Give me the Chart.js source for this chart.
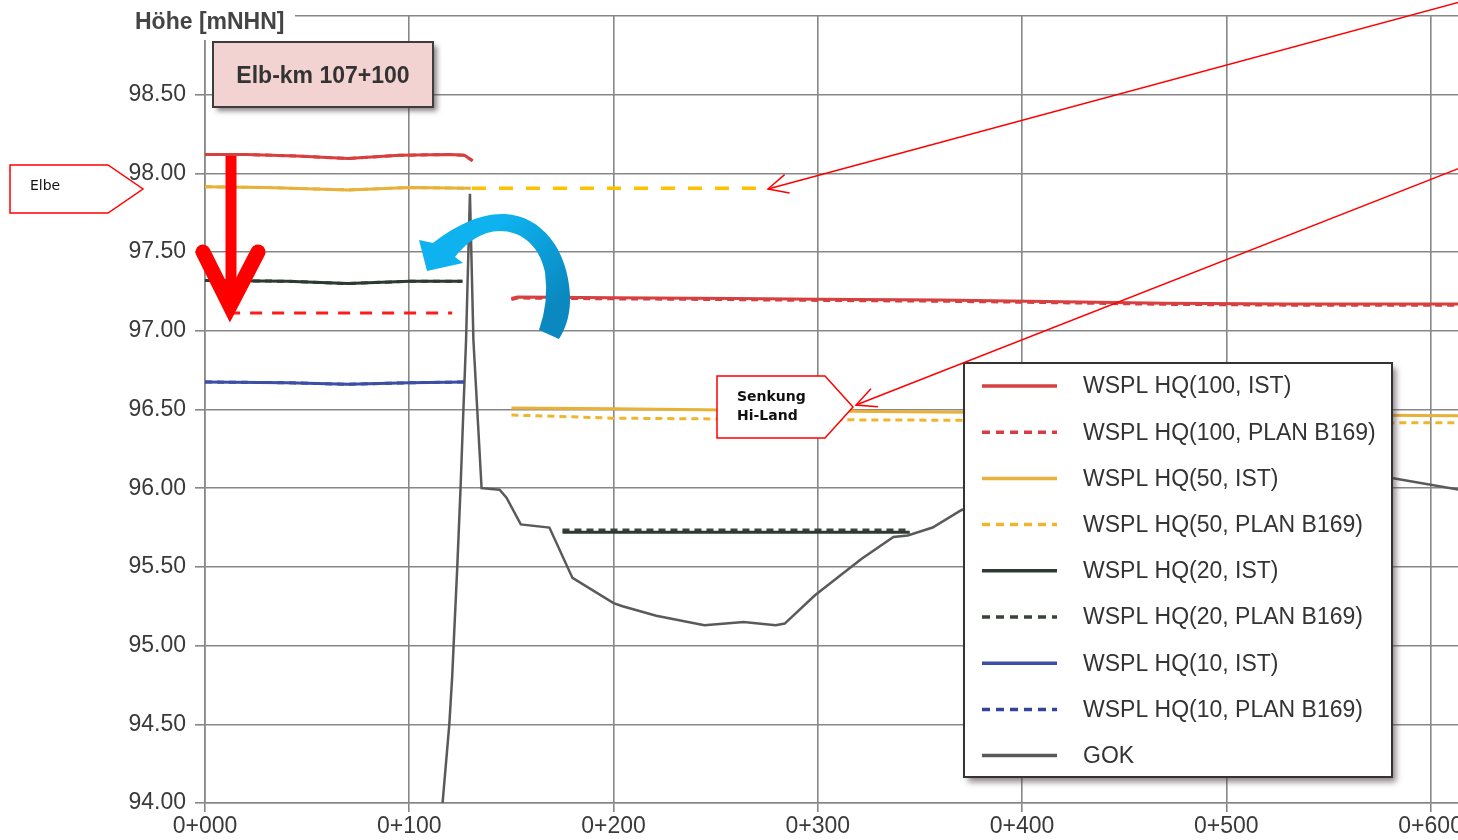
<!DOCTYPE html>
<html>
<head>
<meta charset="utf-8">
<script src="https://cdn.jsdelivr.net/npm/chart.js@4.4.1/dist/chart.umd.min.js"></script>
<style>
  html, body { margin: 0; padding: 0; background: #fff; overflow: hidden; }
  #wrap { width: 1458px; height: 840px; }
</style>
</head>
<body>
<div id="wrap"><canvas id="profilChart" width="1458" height="840"></canvas></div>
<script>
const xTicks = [0, 100, 200, 300, 400, 500, 600];

const hq100IstX  = [0, 20, 45, 70, 95, 120, 127, 131, 140, 150, 153, 200, 260, 300, 360, 420, 470, 530, 614];
const hq100IstY  = [98.12, 98.12, 98.11, 98.095, 98.115, 98.12, 98.115, 98.08, null, 97.205, 97.215, 97.21, 97.205, 97.20, 97.195, 97.185, 97.175, 97.17, 97.17];
const hq100PlanY = [98.12, 98.12, 98.11, 98.095, 98.115, 98.12, 98.115, 98.08, null, 97.198, 97.208, 97.203, 97.198, 97.193, 97.188, 97.178, 97.168, 97.163, 97.163];

const hq50IstX  = [0, 30, 70, 100, 130, 140, 150, 200, 300, 400, 500, 614];
const hq50IstY  = [97.915, 97.91, 97.895, 97.91, 97.905, null, 96.51, 96.505, 96.49, 96.48, 96.47, 96.46];
const hq50PlanY = [97.915, 97.91, 97.895, 97.91, 97.905, null, 96.465, 96.445, 96.435, 96.43, 96.42, 96.415];

const hq20IstX  = [0, 40, 70, 100, 126, 150, 175, 345];
const hq20IstY  = [97.32, 97.315, 97.30, 97.315, 97.315, null, 95.72, 95.72];
const hq20PlanY = [97.32, 97.315, 97.30, 97.315, 97.315, null, 95.735, 95.735];

const hq10IstX  = [0, 40, 70, 100, 127];
const hq10IstY  = [96.675, 96.67, 96.66, 96.67, 96.675];
const hq10PlanY = [96.675, 96.67, 96.66, 96.67, 96.675];

const gokX = [115.5, 116.3, 119.6, 121, 121.7, 123.5, 125.1, 126.5, 127.8, 129.7, 131.4, 135.4, 144.2, 147.6, 154.6, 168.6, 179.9, 200, 204.4, 220.9, 244.5, 263.7, 279.4, 283.8, 298.6, 321.3, 337, 344, 356.2, 370.2, 400, 450, 500, 550, 581, 614];
const gokY = [93.85, 94.0, 94.5, 94.8, 95.0, 95.5, 96.0, 96.5, 96.94, 97.87, 96.94, 96.0, 95.99, 95.94, 95.77, 95.75, 95.43, 95.27, 95.25, 95.19, 95.13, 95.15, 95.13, 95.14, 95.32, 95.55, 95.69, 95.70, 95.75, 95.86, 96.0, 96.1, 96.15, 96.12, 96.065, 95.99];

// Markierungen (Absenkung Elbe / Übertragung ins Hinterland)
const elbeSenkungX = [11.3, 121];
const elbeSenkungY = 97.113;
const hq50UebertragX = [130.7, 275.6];
const hq50UebertragY = 97.906;

const FONT = '"Liberation Sans", Arial, sans-serif';

function zip(xs, ys) {
  return xs.map((x, i) => ({ x: x, y: ys[i] }));
}

function line(label, data, color, dashed) {
  return {
    label: label,
    data: data,
    borderColor: color,
    borderWidth: 3,
    borderDash: dashed ? [7, 5] : [],
    pointRadius: 0,
    tension: 0,
    fill: false,
    spanGaps: false
  };
}

const datasets = [
  line('WSPL HQ(100, IST)', zip(hq100IstX, hq100IstY), '#d6403f', false),
  line('WSPL HQ(100, PLAN B169)', zip(hq100IstX, hq100PlanY), '#d63c44', true),
  line('WSPL HQ(50, IST)', zip(hq50IstX, hq50IstY), '#e8b13a', false),
  line('WSPL HQ(50, PLAN B169)', zip(hq50IstX, hq50PlanY), '#efb52c', true),
  line('WSPL HQ(20, IST)', zip(hq20IstX, hq20IstY), '#2e3a31', false),
  line('WSPL HQ(20, PLAN B169)', zip(hq20IstX, hq20PlanY), '#3a423a', true),
  line('WSPL HQ(10, IST)', zip(hq10IstX, hq10IstY), '#3c4ea6', false),
  line('WSPL HQ(10, PLAN B169)', zip(hq10IstX, hq10PlanY), '#34449c', true),
  line('GOK', zip(gokX, gokY), '#5a5a5a', false)
];
datasets[8].borderWidth = 2.5;

// Legende als Kasten im Diagramm
const legendBox = {
  id: 'legendBox',
  afterDatasetsDraw(chart) {
    const c = chart.ctx;
    const x = 964, y = 363, w = 428, h = 414;
    c.save();
    c.shadowColor = 'rgba(70,50,60,0.6)';
    c.shadowBlur = 6;
    c.shadowOffsetX = 4;
    c.shadowOffsetY = 5;
    c.fillStyle = '#fff';
    c.fillRect(x, y, w, h);
    c.restore();

    c.save();
    c.strokeStyle = '#333';
    c.lineWidth = 2;
    c.strokeRect(x, y, w, h);
    chart.data.datasets.forEach((ds, i) => {
      const ry = 386 + i * 46.2;
      c.beginPath();
      c.strokeStyle = ds.borderColor;
      c.lineWidth = 3.5;
      c.setLineDash(ds.borderDash.length ? [8, 6] : []);
      c.moveTo(982, ry);
      c.lineTo(1057, ry);
      c.stroke();
      c.setLineDash([]);
      c.fillStyle = '#333';
      c.font = '23px ' + FONT;
      c.textBaseline = 'middle';
      c.fillText(ds.label, 1083, ry + 1);
    });
    c.restore();
  }
};

function arrowHead(c, x, y, angle, len, spread) {
  c.beginPath();
  c.moveTo(x + len * Math.cos(angle - spread), y + len * Math.sin(angle - spread));
  c.lineTo(x, y);
  c.lineTo(x + len * Math.cos(angle + spread), y + len * Math.sin(angle + spread));
  c.stroke();
}

function callout(c, x, y, w, h, tip) {
  c.beginPath();
  c.moveTo(x, y);
  c.lineTo(x + w, y);
  c.lineTo(x + w + tip, y + h / 2);
  c.lineTo(x + w, y + h);
  c.lineTo(x, y + h);
  c.closePath();
  c.fillStyle = '#fff';
  c.fill();
  c.strokeStyle = '#ff0000';
  c.lineWidth = 1.5;
  c.stroke();
}

const annotations = {
  id: 'annotations',
  afterDraw(chart) {
    const c = chart.ctx;
    const xs = chart.scales.x, ys = chart.scales.y;
    c.save();

    // Achsentitel
    c.fillStyle = '#fff';
    c.fillRect(118, 0, 177, 40);
    c.fillStyle = '#444';
    c.font = 'bold 23px ' + FONT;
    c.textBaseline = 'alphabetic';
    c.fillText('Höhe [mNHN]', 135, 29);

    // Profilkennung
    c.save();
    c.shadowColor = 'rgba(60,50,50,0.6)';
    c.shadowBlur = 5;
    c.shadowOffsetX = 4;
    c.shadowOffsetY = 4;
    c.fillStyle = '#f2d3d1';
    c.fillRect(213, 42, 220, 65);
    c.restore();
    c.strokeStyle = '#3d3d3d';
    c.lineWidth = 2;
    c.strokeRect(213, 42, 220, 65);
    c.fillStyle = '#333';
    c.font = 'bold 23px ' + FONT;
    c.textAlign = 'center';
    c.textBaseline = 'middle';
    c.fillText('Elb-km 107+100', 323, 77);
    c.textAlign = 'left';

    // gestrichelte Markierungen
    c.lineWidth = 3;
    c.strokeStyle = '#ff1a1a';
    c.setLineDash([12, 10]);
    c.beginPath();
    c.moveTo(xs.getPixelForValue(elbeSenkungX[0]), ys.getPixelForValue(elbeSenkungY));
    c.lineTo(xs.getPixelForValue(elbeSenkungX[1]), ys.getPixelForValue(elbeSenkungY));
    c.stroke();
    c.strokeStyle = '#ffc000';
    c.lineWidth = 3.5;
    c.setLineDash([14, 13]);
    c.beginPath();
    c.moveTo(xs.getPixelForValue(hq50UebertragX[0]), ys.getPixelForValue(hq50UebertragY));
    c.lineTo(xs.getPixelForValue(hq50UebertragX[1]), ys.getPixelForValue(hq50UebertragY));
    c.stroke();
    c.setLineDash([]);

    // roter Pfeil nach unten
    c.strokeStyle = '#ff0000';
    c.lineWidth = 11;
    c.beginPath();
    c.moveTo(231, 156);
    c.lineTo(231, 300);
    c.stroke();
    c.lineWidth = 15;
    c.lineCap = 'round';
    c.lineJoin = 'miter';
    c.beginPath();
    c.moveTo(203, 252);
    c.lineTo(230, 306);
    c.lineTo(258, 252);
    c.stroke();
    c.lineCap = 'butt';

    // blauer Bogenpfeil
    const g = c.createLinearGradient(495, 230, 560, 300);
    g.addColorStop(0, '#0db2ee');
    g.addColorStop(1, '#0b88c0');
    c.fillStyle = g;
    c.beginPath();
    c.moveTo(427, 271);
    c.lineTo(419, 240);
    c.lineTo(433, 243);
    c.bezierCurveTo(455, 226, 480, 213, 505, 214);
    c.bezierCurveTo(542, 216, 568, 250, 570, 295);
    c.quadraticCurveTo(571, 320, 559, 339);
    c.lineTo(539, 330);
    c.quadraticCurveTo(549, 302, 545, 272);
    c.bezierCurveTo(539, 244, 520, 231, 500, 231);
    c.bezierCurveTo(482, 231, 466, 243, 455, 257);
    c.lineTo(463, 263);
    c.closePath();
    c.fill();

    // Hinweiskästen
    callout(c, 10, 165, 98, 48, 35);
    c.fillStyle = '#111';
    c.font = '14px "DejaVu Sans", Verdana, sans-serif';
    c.textBaseline = 'middle';
    c.fillText('Elbe', 30, 186);

    callout(c, 717, 376, 108, 62, 28);
    c.fillStyle = '#111';
    c.font = 'bold 14px "DejaVu Sans", Verdana, sans-serif';
    c.fillText('Senkung', 737, 397);
    c.fillText('Hi-Land', 737, 416);

    // dünne Hinweispfeile
    c.strokeStyle = '#ff0000';
    c.lineWidth = 1.5;
    c.beginPath();
    c.moveTo(1460, 2);
    c.lineTo(768, 189);
    c.stroke();
    arrowHead(c, 768, 189, Math.atan2(2 - 189, 1460 - 768), 22, 0.45);
    c.beginPath();
    c.moveTo(1460, 168);
    c.lineTo(856, 405);
    c.stroke();
    arrowHead(c, 856, 405, Math.atan2(168 - 405, 1460 - 856), 22, 0.45);

    c.restore();
  }
};

const config = {
  type: 'line',
  data: { datasets: datasets },
  options: {
    responsive: false,
    animation: false,
    layout: { padding: { left: 0, right: 0, top: 16, bottom: 0 } },
    plugins: {
      legend: { display: false },
      tooltip: { enabled: false }
    },
    scales: {
      x: {
        type: 'linear',
        min: 0,
        max: 613.4,
        afterBuildTicks: (s) => { s.ticks = xTicks.map(v => ({ value: v })); },
        afterFit: (s) => { s.height = 37; s.paddingLeft = 0; s.paddingRight = 0; },
        ticks: {
          callback: (v) => '0+' + String(v).padStart(3, '0'),
          color: '#3a3a3a',
          font: { family: FONT, size: 23 },
          maxRotation: 0,
          autoSkip: false,
          padding: 1
        },
        grid: { color: '#878787', lineWidth: 1.6, tickLength: 9 },
        border: { color: '#878787', width: 1.6 }
      },
      y: {
        type: 'linear',
        min: 94,
        max: 99,
        afterFit: (s) => { s.width = 205; s.paddingTop = 0; s.paddingBottom = 0; },
        ticks: {
          stepSize: 0.5,
          callback: (v) => v >= 99 ? '' : v.toFixed(2),
          color: '#3a3a3a',
          font: { family: FONT, size: 23 },
          padding: 9
        },
        grid: { color: '#878787', lineWidth: 1.6, tickLength: 10 },
        border: { color: '#878787', width: 1.6 }
      }
    }
  },
  plugins: [legendBox, annotations]
};

window.onload = function() {
  const ctx = document.getElementById('profilChart').getContext('2d');
  new Chart(ctx, config);
};
</script>
</body>
</html>
